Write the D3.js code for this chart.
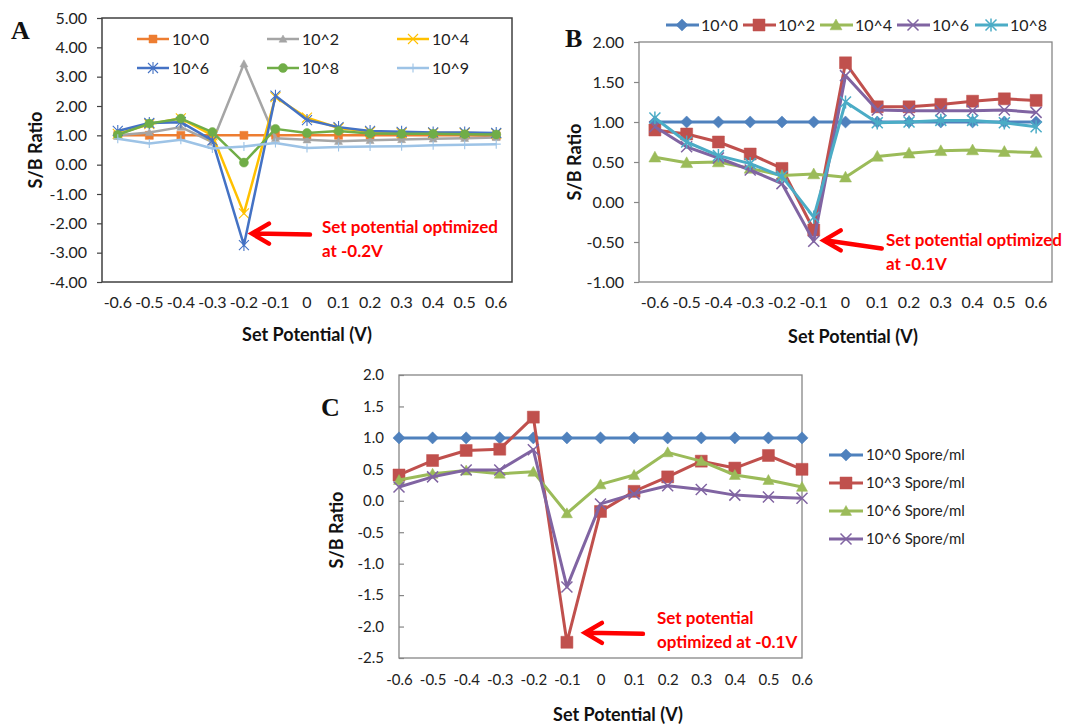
<!DOCTYPE html>
<html><head><meta charset="utf-8">
<script src="https://cdn.jsdelivr.net/npm/d3@7"></script>
<style>
html,body{margin:0;padding:0;background:#fff;}
svg{display:block;}
</style></head>
<body>
<svg id="chart" width="1080" height="724"></svg>
<script>
// ---------- DATA ----------
const potentials = ["-0.6","-0.5","-0.4","-0.3","-0.2","-0.1","0","0.1","0.2","0.3","0.4","0.5","0.6"];

// Panel A
const aNames = ["10^0","10^2","10^4","10^6","10^8","10^9"];
const a_1e0 = [1.00,1.00,1.00,1.00,1.00,1.00,1.00,1.00,1.00,1.00,1.00,1.00,0.98];
const a_1e2 = [1.00,1.10,1.28,0.77,3.44,0.90,0.85,0.80,0.83,0.86,0.88,0.90,0.93];
const a_1e4 = [1.05,1.38,1.58,1.00,-1.66,2.30,1.60,1.25,1.12,1.08,1.08,1.08,1.06];
const a_1e6 = [1.15,1.42,1.45,0.83,-2.74,2.35,1.52,1.28,1.15,1.12,1.10,1.10,1.08];
const a_1e8 = [1.02,1.40,1.57,1.11,0.07,1.22,1.08,1.15,1.06,1.05,1.05,1.04,1.03];
const a_1e9 = [0.88,0.72,0.85,0.55,0.62,0.74,0.57,0.60,0.62,0.63,0.66,0.68,0.70];
const aTicks = [5,4,3,2,1,0,-1,-2,-3,-4];

// Panel B
const bNames = ["10^0","10^2","10^4","10^6","10^8"];
const b_1e0 = [1,1,1,1,1,1,1,1,1,1,1,1,1];
const b_1e2 = [0.90,0.85,0.75,0.60,0.42,-0.35,1.74,1.19,1.19,1.22,1.26,1.29,1.27];
const b_1e4 = [0.56,0.49,0.50,0.42,0.33,0.35,0.31,0.57,0.61,0.64,0.65,0.63,0.62];
const b_1e6 = [0.94,0.69,0.55,0.40,0.23,-0.49,1.58,1.15,1.14,1.14,1.14,1.15,1.12];
const b_1e8 = [1.05,0.75,0.58,0.48,0.32,-0.19,1.25,0.99,1.00,1.02,1.02,0.99,0.94];
const bTicks = [2,1.5,1,0.5,0,-0.5,-1];

// Panel C
const cNames = ["10^0 Spore/ml","10^3 Spore/ml","10^6 Spore/ml","10^6 Spore/ml"];
const c_1e0 = [1,1,1,1,1,1,1,1,1,1,1,1,1];
const c_1e3 = [0.41,0.64,0.80,0.82,1.33,-2.25,-0.17,0.15,0.38,0.63,0.52,0.72,0.50];
const c_1e6a = [0.33,0.43,0.48,0.43,0.46,-0.20,0.26,0.41,0.77,0.63,0.41,0.33,0.22];
const c_1e6b = [0.22,0.38,0.49,0.49,0.81,-1.37,-0.05,0.11,0.24,0.18,0.09,0.06,0.04];
const cTicks = [2,1.5,1,0.5,0,-0.5,-1,-1.5,-2,-2.5];

const xTitle = "Set Potential (V)";
const yTitle = "S/B Ratio";

// ---------- HELPERS ----------
const FONT = "Lato, 'Open Sans', sans-serif";
const loc = d3.formatLocale({decimal:".",thousands:",",grouping:[3],currency:["",""],minus:"-"});
const fmt2 = loc.format(".2f"), fmt1 = loc.format(".1f");
const svg = d3.select("#chart").style("font-family", FONT);

function markerPath(type, s){
  const h = s/2;
  switch(type){
    case "square": return `M${-h},${-h}H${h}V${h}H${-h}Z`;
    case "diamond": return `M0,${-h*1.1}L${h*1.1},0L0,${h*1.1}L${-h*1.1},0Z`;
    case "triangle": return `M0,${-h}L${h},${h*0.8}L${-h},${h*0.8}Z`;
    case "circle": return d3.symbol(d3.symbolCircle, Math.PI*h*h)();
    case "x": return `M${-h},${-h}L${h},${h}M${-h},${h}L${h},${-h}`;
    case "asterisk": return `M${-h},${-h}L${h},${h}M${-h},${h}L${h},${-h}M0,${-h*1.2}L0,${h*1.2}`;
    case "plus": return `M${-h},0L${h},0M0,${-h}L0,${h}`;
  }
}
const strokeMarkers = new Set(["x","asterisk","plus"]);

function drawMarker(g, type, s, color, mw){
  const filled = !strokeMarkers.has(type);
  return g.append("path").attr("d", markerPath(type,s))
    .attr("fill", filled ? color : "none")
    .attr("stroke", color).attr("stroke-width", filled ? 0.5 : mw);
}

function panel(o){
  const g = svg.append("g");
  const x = o.band
    ? d3.scaleBand().domain(potentials).range([o.left,o.right])
    : d3.scalePoint().domain(potentials).range([o.left,o.right]);
  const off = o.band ? x.bandwidth()/2 : 0;
  const xc = d => x(d) + off;
  const y = d3.scaleLinear().domain([o.ticks[o.ticks.length-1], o.ticks[0]]).range([o.bottom,o.top]);

  // y axis
  const yAx = g.append("g").attr("transform",`translate(${o.left},0)`)
    .call(d3.axisLeft(y).tickValues(o.ticks).tickFormat(o.fmt)
      .tickSizeInner(o.tickIn ? -5 : 5).tickSizeOuter(0).tickPadding(o.tickIn ? 15 : 10));
  yAx.select(".domain").remove();
  yAx.selectAll("line").attr("stroke", o.axisColor).attr("stroke-width",1.2);
  yAx.selectAll("text").style("font-size", o.fs+"px").style("font-family",FONT).attr("fill","#222");

  // x axis
  const xAx = g.append("g").attr("transform",`translate(0,${o.bottom})`)
    .call(d3.axisBottom(x).tickSizeInner(0).tickSizeOuter(0).tickPadding(o.xPad));
  xAx.select(".domain").remove();
  xAx.selectAll("line").remove();
  xAx.selectAll("text").style("font-size", o.fs+"px").style("font-family",FONT).attr("fill","#222");

  // frame
  g.append("rect").attr("x",o.left).attr("y",o.top)
    .attr("width",o.right-o.left).attr("height",o.bottom-o.top)
    .attr("fill","none").attr("stroke",o.axisColor).attr("stroke-width",o.frameW);

  // series
  const line = d3.line().x((d,i)=>xc(potentials[i])).y(d=>y(d));
  o.series.forEach(s=>{
    g.append("path").datum(s.values).attr("d",line)
      .attr("fill","none").attr("stroke",s.color).attr("stroke-width",o.lineW)
      .attr("stroke-linejoin","round");
    s.values.forEach((v,i)=>{
      drawMarker(g, s.marker, s.size, s.markerColor||s.color, s.mw||1.2)
        .attr("transform",`translate(${xc(potentials[i])},${y(v)})`);
    });
  });

  // titles
  g.append("text").attr("x",o.xTitle[0]).attr("y",o.xTitle[1]).attr("text-anchor","middle")
    .style("font-size",o.titleFs+"px").attr("font-weight","bold").attr("fill","#111").text(xTitle);
  g.append("text").attr("transform",`translate(${o.yTitle[0]},${o.yTitle[1]}) rotate(-90)`)
    .attr("text-anchor","middle").attr("dy","0.35em")
    .style("font-size",o.titleFs+"px").attr("font-weight","bold").attr("fill","#111").text(yTitle);
  g.append("text").attr("x",o.letter[0]).attr("y",o.letter[1])
    .style("font-family","'Liberation Serif','Times New Roman',serif").attr("font-weight","bold")
    .style("font-size","26px").attr("fill","#111").text(o.letterText);

  // annotation arrow
  const tip = [xc(o.arrow.cat)+o.arrow.dx, y(o.arrow.val)];
  const tail = [tip[0]+o.arrow.len, tip[1]+o.arrow.drop];
  g.append("path")
    .attr("d",`M${tail[0]},${tail[1]}L${tip[0]+3},${tip[1]}M${tip[0]+17},${tip[1]-10}L${tip[0]},${tip[1]}L${tip[0]+17},${tip[1]+10}`)
    .attr("fill","none").attr("stroke","#FF0000").attr("stroke-width",4.5)
    .attr("stroke-linecap","round").attr("stroke-linejoin","miter");
  const t = g.append("text").attr("fill","#FF0000").attr("font-weight","bold")
    .style("font-size",o.annFs+"px");
  o.annLines.forEach((l,i)=>{
    t.append("tspan").attr("x",o.annX).attr("y",o.annY+i*o.annLH).text(l);
  });
  return {x,y,g};
}

// ---------- PANEL A ----------
const colA = ["#ED7D31","#A5A5A5","#FFC000","#4472C4","#70AD47","#9DC3E6"];
const mkA = ["square","triangle","x","asterisk","circle","plus"];
const szA = [8,8,10,10,9,9];
const valsA = [a_1e0,a_1e2,a_1e4,a_1e6,a_1e8,a_1e9];
const pA = panel({
  left:102, right:512, top:18, bottom:282, band:true, ticks:aTicks, fmt:fmt2,
  axisColor:"#404040", frameW:1.5, tickIn:false, fs:16, xPad:15, lineW:2.5, titleFs:18,
  series: aNames.map((n,i)=>({name:n, values:valsA[i], color:colA[i], marker:mkA[i], size:szA[i], mw:1.1})),
  xTitle:[307,341], yTitle:[36,150], letter:[11,39], letterText:"A",
  arrow:{cat:"-0.2", dx:8, val:-2.35, len:58, drop:1},
  annLines:["Set potential optimized","at -0.2V"], annX:322, annY:233, annLH:24, annFs:17
});
// legend A
aNames.forEach((n,i)=>{
  const cx = [137,267,397][i%3], cy = [39,68][Math.floor(i/3)];
  const lg = pA.g.append("g");
  lg.append("line").attr("x1",cx).attr("x2",cx+32).attr("y1",cy).attr("y2",cy)
    .attr("stroke",colA[i]).attr("stroke-width",2.5);
  drawMarker(lg, mkA[i], szA[i], colA[i], 1.1).attr("transform",`translate(${cx+16},${cy})`);
  lg.append("text").attr("x",cx+35).attr("y",cy).attr("dy","0.35em")
    .style("font-size","16px").attr("fill","#222").text(n);
});

// ---------- PANEL B ----------
const colB = ["#4F81BD","#C0504D","#9BBB59","#8064A2","#4BACC6"];
const mkB = ["diamond","square","triangle","x","asterisk"];
const szB = [11,12,12,11,11];
const valsB = [b_1e0,b_1e2,b_1e4,b_1e6,b_1e8];
const pB = panel({
  left:639, right:1052, top:42, bottom:282, band:true, ticks:bTicks, fmt:fmt2,
  axisColor:"#868686", frameW:1.3, tickIn:false, fs:16, xPad:15, lineW:3, titleFs:18,
  series: bNames.map((n,i)=>({name:n, values:valsB[i], color:colB[i], marker:mkB[i], size:szB[i], mw:1.5})),
  xTitle:[853,343], yTitle:[575,162], letter:[565,47], letterText:"B",
  arrow:{cat:"-0.1", dx:10, val:-0.48, len:58, drop:8},
  annLines:["Set potential optimized","at -0.1V"], annX:886, annY:246, annLH:24, annFs:17
});
// legend B
const lxB = [666,743,820,897,975];
bNames.forEach((n,i)=>{
  const cx = lxB[i], cy = 25;
  const lg = pB.g.append("g");
  lg.append("line").attr("x1",cx).attr("x2",cx+33).attr("y1",cy).attr("y2",cy)
    .attr("stroke",colB[i]).attr("stroke-width",3);
  drawMarker(lg, mkB[i], szB[i], colB[i], 1.5).attr("transform",`translate(${cx+16},${cy})`);
  lg.append("text").attr("x",cx+35).attr("y",cy).attr("dy","0.35em")
    .style("font-size","16px").attr("fill","#222").text(n);
});

// ---------- PANEL C ----------
const colC = ["#4F81BD","#C0504D","#9BBB59","#8064A2"];
const mkC = ["diamond","square","triangle","x"];
const szC = [11,12,11,11];
const valsC = [c_1e0,c_1e3,c_1e6a,c_1e6b];
const pC = panel({
  left:399, right:802, top:375, bottom:658, band:false, ticks:cTicks, fmt:fmt1,
  axisColor:"#868686", frameW:1.3, tickIn:true, fs:15, xPad:16, lineW:3, titleFs:18,
  series: cNames.map((n,i)=>({name:n, values:valsC[i], color:colC[i], marker:mkC[i], size:szC[i], mw:1.5})),
  xTitle:[618,721], yTitle:[337,530], letter:[321,416], letterText:"C",
  arrow:{cat:"-0.1", dx:18, val:-2.1, len:58, drop:1},
  annLines:["Set potential","optimized at -0.1V"], annX:657, annY:624, annLH:24, annFs:17
});
// legend C
cNames.forEach((n,i)=>{
  const cx = 829, cy = 455 + i*28;
  const lg = pC.g.append("g");
  lg.append("line").attr("x1",cx).attr("x2",cx+34).attr("y1",cy).attr("y2",cy)
    .attr("stroke",colC[i]).attr("stroke-width",3);
  drawMarker(lg, mkC[i], szC[i], colC[i], 1.5).attr("transform",`translate(${cx+17},${cy})`);
  lg.append("text").attr("x",cx+37).attr("y",cy).attr("dy","0.35em")
    .style("font-size","15px").attr("fill","#222").text(n);
});
</script>
</body></html>
